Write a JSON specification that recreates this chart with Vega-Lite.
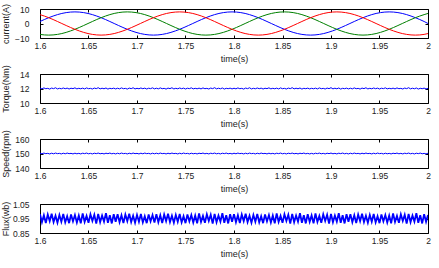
{
"$schema": "https://vega.github.io/schema/vega-lite/v6.json",
"padding": {"left": 0, "top": 2, "right": 8, "bottom": 2},
"background": "white",
"bounds": "flush",
"spacing": 36,
"config": {
  "view": {"stroke": "#000", "strokeWidth": 1},
  "font": "Liberation Sans",
  "axis": {"domain": false, "grid": false, "ticks": true, "tickSize": -3, "tickColor": "#000", "labelFontSize": 8.5, "titleFontSize": 9, "titleFontWeight": "normal", "labelColor": "#222", "titleColor": "#222", "labelFlush": false, "labelOverlap": false},
  "line": {"strokeWidth": 1}
},
"datasets": {
"cur": [
{"t":1.6,"b":1.39,"g":-7.52,"r":6.13},{"t":1.6045,"b":2.74,"g":-7.88,"r":5.14},{"t":1.609,"b":4,"g":-8,"r":4},{"t":1.6135,"b":5.14,"g":-7.88,"r":2.74},{"t":1.618,"b":6.13,"g":-7.52,"r":1.39},{"t":1.6225,"b":6.93,"g":-6.93,"r":0},{"t":1.627,"b":7.52,"g":-6.13,"r":-1.39},{"t":1.6315,"b":7.88,"g":-5.14,"r":-2.74},{"t":1.636,"b":8,"g":-4,"r":-4},{"t":1.6405,"b":7.88,"g":-2.74,"r":-5.14},{"t":1.645,"b":7.52,"g":-1.39,"r":-6.13},{"t":1.6495,"b":6.93,"g":0,"r":-6.93},{"t":1.654,"b":6.13,"g":1.39,"r":-7.52},{"t":1.6585,"b":5.14,"g":2.74,"r":-7.88},{"t":1.663,"b":4,"g":4,"r":-8},{"t":1.6675,"b":2.74,"g":5.14,"r":-7.88},{"t":1.672,"b":1.39,"g":6.13,"r":-7.52},{"t":1.6765,"b":0,"g":6.93,"r":-6.93},{"t":1.681,"b":-1.39,"g":7.52,"r":-6.13},{"t":1.6855,"b":-2.74,"g":7.88,"r":-5.14},{"t":1.69,"b":-4,"g":8,"r":-4},{"t":1.6945,"b":-5.14,"g":7.88,"r":-2.74},{"t":1.699,"b":-6.13,"g":7.52,"r":-1.39},{"t":1.7035,"b":-6.93,"g":6.93,"r":0},{"t":1.708,"b":-7.52,"g":6.13,"r":1.39},{"t":1.7125,"b":-7.88,"g":5.14,"r":2.74},{"t":1.717,"b":-8,"g":4,"r":4},{"t":1.7215,"b":-7.88,"g":2.74,"r":5.14},{"t":1.726,"b":-7.52,"g":1.39,"r":6.13},{"t":1.7305,"b":-6.93,"g":0,"r":6.93},{"t":1.735,"b":-6.13,"g":-1.39,"r":7.52},{"t":1.7395,"b":-5.14,"g":-2.74,"r":7.88},{"t":1.744,"b":-4,"g":-4,"r":8},{"t":1.7485,"b":-2.74,"g":-5.14,"r":7.88},{"t":1.753,"b":-1.39,"g":-6.13,"r":7.52},{"t":1.7575,"b":0,"g":-6.93,"r":6.93},
{"t":1.762,"b":1.39,"g":-7.52,"r":6.13},{"t":1.7665,"b":2.74,"g":-7.88,"r":5.14},{"t":1.771,"b":4,"g":-8,"r":4},{"t":1.7755,"b":5.14,"g":-7.88,"r":2.74},{"t":1.78,"b":6.13,"g":-7.52,"r":1.39},{"t":1.7845,"b":6.93,"g":-6.93,"r":0},{"t":1.789,"b":7.52,"g":-6.13,"r":-1.39},{"t":1.7935,"b":7.88,"g":-5.14,"r":-2.74},{"t":1.798,"b":8,"g":-4,"r":-4},{"t":1.8025,"b":7.88,"g":-2.74,"r":-5.14},{"t":1.807,"b":7.52,"g":-1.39,"r":-6.13},{"t":1.8115,"b":6.93,"g":0,"r":-6.93},{"t":1.816,"b":6.13,"g":1.39,"r":-7.52},{"t":1.8205,"b":5.14,"g":2.74,"r":-7.88},{"t":1.825,"b":4,"g":4,"r":-8},{"t":1.8295,"b":2.74,"g":5.14,"r":-7.88},{"t":1.834,"b":1.39,"g":6.13,"r":-7.52},{"t":1.8385,"b":0,"g":6.93,"r":-6.93},{"t":1.843,"b":-1.39,"g":7.52,"r":-6.13},{"t":1.8475,"b":-2.74,"g":7.88,"r":-5.14},{"t":1.852,"b":-4,"g":8,"r":-4},{"t":1.8565,"b":-5.14,"g":7.88,"r":-2.74},{"t":1.861,"b":-6.13,"g":7.52,"r":-1.39},{"t":1.8655,"b":-6.93,"g":6.93,"r":0},{"t":1.87,"b":-7.52,"g":6.13,"r":1.39},{"t":1.8745,"b":-7.88,"g":5.14,"r":2.74},{"t":1.879,"b":-8,"g":4,"r":4},{"t":1.8835,"b":-7.88,"g":2.74,"r":5.14},{"t":1.888,"b":-7.52,"g":1.39,"r":6.13},{"t":1.8925,"b":-6.93,"g":0,"r":6.93},{"t":1.897,"b":-6.13,"g":-1.39,"r":7.52},{"t":1.9015,"b":-5.14,"g":-2.74,"r":7.88},{"t":1.906,"b":-4,"g":-4,"r":8},{"t":1.9105,"b":-2.74,"g":-5.14,"r":7.88},{"t":1.915,"b":-1.39,"g":-6.13,"r":7.52},{"t":1.9195,"b":0,"g":-6.93,"r":6.93},
{"t":1.924,"b":1.39,"g":-7.52,"r":6.13},{"t":1.9285,"b":2.74,"g":-7.88,"r":5.14},{"t":1.933,"b":4,"g":-8,"r":4},{"t":1.9375,"b":5.14,"g":-7.88,"r":2.74},{"t":1.942,"b":6.13,"g":-7.52,"r":1.39},{"t":1.9465,"b":6.93,"g":-6.93,"r":0},{"t":1.951,"b":7.52,"g":-6.13,"r":-1.39},{"t":1.9555,"b":7.88,"g":-5.14,"r":-2.74},{"t":1.96,"b":8,"g":-4,"r":-4},{"t":1.9645,"b":7.88,"g":-2.74,"r":-5.14},{"t":1.969,"b":7.52,"g":-1.39,"r":-6.13},{"t":1.9735,"b":6.93,"g":0,"r":-6.93},{"t":1.978,"b":6.13,"g":1.39,"r":-7.52},{"t":1.9825,"b":5.14,"g":2.74,"r":-7.88},{"t":1.987,"b":4,"g":4,"r":-8},{"t":1.9915,"b":2.74,"g":5.14,"r":-7.88},{"t":1.996,"b":1.39,"g":6.13,"r":-7.52},{"t":2.0,"b":0,"g":6.93,"r":-6.93}
],
"n": [
{"t":1.6,"q":12.04,"s":150.2,"f":0.98},{"t":1.602,"q":11.95,"s":149.8,"f":0.924},{"t":1.604,"q":12.08,"s":150.3,"f":0.972},{"t":1.606,"q":11.97,"s":149.9,"f":0.919},{"t":1.608,"q":12.02,"s":150.1,"f":0.977},{"t":1.61,"q":11.92,"s":149.7,"f":0.932},{"t":1.612,"q":12.06,"s":150.2,"f":0.983},{"t":1.614,"q":11.98,"s":149.8,"f":0.926},{"t":1.616,"q":12.1,"s":150.3,"f":0.969},{"t":1.618,"q":11.94,"s":149.9,"f":0.921},{"t":1.62,"q":12.03,"s":150.1,"f":0.975},{"t":1.622,"q":11.96,"s":149.7,"f":0.928},{"t":1.624,"q":12.07,"s":150.2,"f":0.981},{"t":1.626,"q":11.97,"s":149.8,"f":0.923},{"t":1.628,"q":12.05,"s":150.3,"f":0.966},{"t":1.63,"q":11.93,"s":149.9,"f":0.918},{"t":1.632,"q":12.04,"s":150.1,"f":0.978},{"t":1.634,"q":11.98,"s":149.7,"f":0.93},{"t":1.636,"q":12.09,"s":150.2,"f":0.974},{"t":1.638,"q":11.95,"s":149.8,"f":0.922},
{"t":1.64,"q":12.03,"s":150.1,"f":0.971},{"t":1.642,"q":11.96,"s":149.7,"f":0.917},{"t":1.644,"q":12.05,"s":150.2,"f":0.985},{"t":1.646,"q":11.94,"s":149.9,"f":0.927},{"t":1.648,"q":12.08,"s":150.3,"f":0.968},{"t":1.65,"q":11.97,"s":149.8,"f":0.92},{"t":1.652,"q":12.02,"s":150.1,"f":0.979},{"t":1.654,"q":11.93,"s":149.7,"f":0.933},{"t":1.656,"q":12.06,"s":150.2,"f":0.976},{"t":1.658,"q":11.98,"s":149.9,"f":0.915},{"t":1.66,"q":12.11,"s":150.3,"f":0.982},{"t":1.662,"q":11.95,"s":149.8,"f":0.925},{"t":1.664,"q":12.04,"s":150.1,"f":0.97},{"t":1.666,"q":11.96,"s":149.7,"f":0.929},{"t":1.668,"q":12.07,"s":150.2,"f":0.987},{"t":1.67,"q":11.92,"s":149.9,"f":0.921},{"t":1.672,"q":12.03,"s":150.3,"f":0.973},{"t":1.674,"q":11.97,"s":149.8,"f":0.916},{"t":1.676,"q":12.05,"s":150.1,"f":0.98},{"t":1.678,"q":11.94,"s":149.7,"f":0.927},
{"t":1.68,"q":12.04,"s":150.2,"f":0.98},{"t":1.682,"q":11.95,"s":149.8,"f":0.924},{"t":1.684,"q":12.08,"s":150.3,"f":0.972},{"t":1.686,"q":11.97,"s":149.9,"f":0.919},{"t":1.688,"q":12.02,"s":150.1,"f":0.977},{"t":1.69,"q":11.92,"s":149.7,"f":0.932},{"t":1.692,"q":12.06,"s":150.2,"f":0.983},{"t":1.694,"q":11.98,"s":149.8,"f":0.926},{"t":1.696,"q":12.1,"s":150.3,"f":0.969},{"t":1.698,"q":11.94,"s":149.9,"f":0.921},{"t":1.7,"q":12.03,"s":150.1,"f":0.975},{"t":1.702,"q":11.96,"s":149.7,"f":0.928},{"t":1.704,"q":12.07,"s":150.2,"f":0.981},{"t":1.706,"q":11.97,"s":149.8,"f":0.923},{"t":1.708,"q":12.05,"s":150.3,"f":0.966},{"t":1.71,"q":11.93,"s":149.9,"f":0.918},{"t":1.712,"q":12.04,"s":150.1,"f":0.978},{"t":1.714,"q":11.98,"s":149.7,"f":0.93},{"t":1.716,"q":12.09,"s":150.2,"f":0.974},{"t":1.718,"q":11.95,"s":149.8,"f":0.922},
{"t":1.72,"q":12.04,"s":150.2,"f":0.98},{"t":1.722,"q":11.95,"s":149.8,"f":0.924},{"t":1.724,"q":12.08,"s":150.3,"f":0.972},{"t":1.726,"q":11.97,"s":149.9,"f":0.919},{"t":1.728,"q":12.02,"s":150.1,"f":0.977},{"t":1.73,"q":11.92,"s":149.7,"f":0.932},{"t":1.732,"q":12.06,"s":150.2,"f":0.983},{"t":1.734,"q":11.98,"s":149.8,"f":0.926},{"t":1.736,"q":12.1,"s":150.3,"f":0.969},{"t":1.738,"q":11.94,"s":149.9,"f":0.921},{"t":1.74,"q":12.03,"s":150.1,"f":0.975},{"t":1.742,"q":11.96,"s":149.7,"f":0.928},{"t":1.744,"q":12.07,"s":150.2,"f":0.981},{"t":1.746,"q":11.97,"s":149.8,"f":0.923},{"t":1.748,"q":12.05,"s":150.3,"f":0.966},{"t":1.75,"q":11.93,"s":149.9,"f":0.918},{"t":1.752,"q":12.04,"s":150.1,"f":0.978},{"t":1.754,"q":11.98,"s":149.7,"f":0.93},{"t":1.756,"q":12.09,"s":150.2,"f":0.974},{"t":1.758,"q":11.95,"s":149.8,"f":0.922},
{"t":1.76,"q":12.03,"s":150.1,"f":0.971},{"t":1.762,"q":11.96,"s":149.7,"f":0.917},{"t":1.764,"q":12.05,"s":150.2,"f":0.985},{"t":1.766,"q":11.94,"s":149.9,"f":0.927},{"t":1.768,"q":12.08,"s":150.3,"f":0.968},{"t":1.77,"q":11.97,"s":149.8,"f":0.92},{"t":1.772,"q":12.02,"s":150.1,"f":0.979},{"t":1.774,"q":11.93,"s":149.7,"f":0.933},{"t":1.776,"q":12.06,"s":150.2,"f":0.976},{"t":1.778,"q":11.98,"s":149.9,"f":0.915},{"t":1.78,"q":12.11,"s":150.3,"f":0.982},{"t":1.782,"q":11.95,"s":149.8,"f":0.925},{"t":1.784,"q":12.04,"s":150.1,"f":0.97},{"t":1.786,"q":11.96,"s":149.7,"f":0.929},{"t":1.788,"q":12.07,"s":150.2,"f":0.987},{"t":1.79,"q":11.92,"s":149.9,"f":0.921},{"t":1.792,"q":12.03,"s":150.3,"f":0.973},{"t":1.794,"q":11.97,"s":149.8,"f":0.916},{"t":1.796,"q":12.05,"s":150.1,"f":0.98},{"t":1.798,"q":11.94,"s":149.7,"f":0.927},
{"t":1.8,"q":12.04,"s":150.2,"f":0.98},{"t":1.802,"q":11.95,"s":149.8,"f":0.924},{"t":1.804,"q":12.08,"s":150.3,"f":0.972},{"t":1.806,"q":11.97,"s":149.9,"f":0.919},{"t":1.808,"q":12.02,"s":150.1,"f":0.977},{"t":1.81,"q":11.92,"s":149.7,"f":0.932},{"t":1.812,"q":12.06,"s":150.2,"f":0.983},{"t":1.814,"q":11.98,"s":149.8,"f":0.926},{"t":1.816,"q":12.1,"s":150.3,"f":0.969},{"t":1.818,"q":11.94,"s":149.9,"f":0.921},{"t":1.82,"q":12.03,"s":150.1,"f":0.975},{"t":1.822,"q":11.96,"s":149.7,"f":0.928},{"t":1.824,"q":12.07,"s":150.2,"f":0.981},{"t":1.826,"q":11.97,"s":149.8,"f":0.923},{"t":1.828,"q":12.05,"s":150.3,"f":0.966},{"t":1.83,"q":11.93,"s":149.9,"f":0.918},{"t":1.832,"q":12.04,"s":150.1,"f":0.978},{"t":1.834,"q":11.98,"s":149.7,"f":0.93},{"t":1.836,"q":12.09,"s":150.2,"f":0.974},{"t":1.838,"q":11.95,"s":149.8,"f":0.922},
{"t":1.84,"q":12.03,"s":150.1,"f":0.971},{"t":1.842,"q":11.96,"s":149.7,"f":0.917},{"t":1.844,"q":12.05,"s":150.2,"f":0.985},{"t":1.846,"q":11.94,"s":149.9,"f":0.927},{"t":1.848,"q":12.08,"s":150.3,"f":0.968},{"t":1.85,"q":11.97,"s":149.8,"f":0.92},{"t":1.852,"q":12.02,"s":150.1,"f":0.979},{"t":1.854,"q":11.93,"s":149.7,"f":0.933},{"t":1.856,"q":12.06,"s":150.2,"f":0.976},{"t":1.858,"q":11.98,"s":149.9,"f":0.915},{"t":1.86,"q":12.11,"s":150.3,"f":0.982},{"t":1.862,"q":11.95,"s":149.8,"f":0.925},{"t":1.864,"q":12.04,"s":150.1,"f":0.97},{"t":1.866,"q":11.96,"s":149.7,"f":0.929},{"t":1.868,"q":12.07,"s":150.2,"f":0.987},{"t":1.87,"q":11.92,"s":149.9,"f":0.921},{"t":1.872,"q":12.03,"s":150.3,"f":0.973},{"t":1.874,"q":11.97,"s":149.8,"f":0.916},{"t":1.876,"q":12.05,"s":150.1,"f":0.98},{"t":1.878,"q":11.94,"s":149.7,"f":0.927},
{"t":1.88,"q":12.03,"s":150.1,"f":0.971},{"t":1.882,"q":11.96,"s":149.7,"f":0.917},{"t":1.884,"q":12.05,"s":150.2,"f":0.985},{"t":1.886,"q":11.94,"s":149.9,"f":0.927},{"t":1.888,"q":12.08,"s":150.3,"f":0.968},{"t":1.89,"q":11.97,"s":149.8,"f":0.92},{"t":1.892,"q":12.02,"s":150.1,"f":0.979},{"t":1.894,"q":11.93,"s":149.7,"f":0.933},{"t":1.896,"q":12.06,"s":150.2,"f":0.976},{"t":1.898,"q":11.98,"s":149.9,"f":0.915},{"t":1.9,"q":12.11,"s":150.3,"f":0.982},{"t":1.902,"q":11.95,"s":149.8,"f":0.925},{"t":1.904,"q":12.04,"s":150.1,"f":0.97},{"t":1.906,"q":11.96,"s":149.7,"f":0.929},{"t":1.908,"q":12.07,"s":150.2,"f":0.987},{"t":1.91,"q":11.92,"s":149.9,"f":0.921},{"t":1.912,"q":12.03,"s":150.3,"f":0.973},{"t":1.914,"q":11.97,"s":149.8,"f":0.916},{"t":1.916,"q":12.05,"s":150.1,"f":0.98},{"t":1.918,"q":11.94,"s":149.7,"f":0.927},
{"t":1.92,"q":12.04,"s":150.2,"f":0.98},{"t":1.922,"q":11.95,"s":149.8,"f":0.924},{"t":1.924,"q":12.08,"s":150.3,"f":0.972},{"t":1.926,"q":11.97,"s":149.9,"f":0.919},{"t":1.928,"q":12.02,"s":150.1,"f":0.977},{"t":1.93,"q":11.92,"s":149.7,"f":0.932},{"t":1.932,"q":12.06,"s":150.2,"f":0.983},{"t":1.934,"q":11.98,"s":149.8,"f":0.926},{"t":1.936,"q":12.1,"s":150.3,"f":0.969},{"t":1.938,"q":11.94,"s":149.9,"f":0.921},{"t":1.94,"q":12.03,"s":150.1,"f":0.975},{"t":1.942,"q":11.96,"s":149.7,"f":0.928},{"t":1.944,"q":12.07,"s":150.2,"f":0.981},{"t":1.946,"q":11.97,"s":149.8,"f":0.923},{"t":1.948,"q":12.05,"s":150.3,"f":0.966},{"t":1.95,"q":11.93,"s":149.9,"f":0.918},{"t":1.952,"q":12.04,"s":150.1,"f":0.978},{"t":1.954,"q":11.98,"s":149.7,"f":0.93},{"t":1.956,"q":12.09,"s":150.2,"f":0.974},{"t":1.958,"q":11.95,"s":149.8,"f":0.922},
{"t":1.96,"q":12.03,"s":150.1,"f":0.971},{"t":1.962,"q":11.96,"s":149.7,"f":0.917},{"t":1.964,"q":12.05,"s":150.2,"f":0.985},{"t":1.966,"q":11.94,"s":149.9,"f":0.927},{"t":1.968,"q":12.08,"s":150.3,"f":0.968},{"t":1.97,"q":11.97,"s":149.8,"f":0.92},{"t":1.972,"q":12.02,"s":150.1,"f":0.979},{"t":1.974,"q":11.93,"s":149.7,"f":0.933},{"t":1.976,"q":12.06,"s":150.2,"f":0.976},{"t":1.978,"q":11.98,"s":149.9,"f":0.915},{"t":1.98,"q":12.11,"s":150.3,"f":0.982},{"t":1.982,"q":11.95,"s":149.8,"f":0.925},{"t":1.984,"q":12.04,"s":150.1,"f":0.97},{"t":1.986,"q":11.96,"s":149.7,"f":0.929},{"t":1.988,"q":12.07,"s":150.2,"f":0.987},{"t":1.99,"q":11.92,"s":149.9,"f":0.921},{"t":1.992,"q":12.03,"s":150.3,"f":0.973},{"t":1.994,"q":11.97,"s":149.8,"f":0.916},{"t":1.996,"q":12.05,"s":150.1,"f":0.98},{"t":1.998,"q":11.94,"s":149.7,"f":0.927},
{"t":2.0,"q":12.02,"s":150.2,"f":0.975}
]
},
"vconcat": [
{
 "width": 388, "height": 29,
 "data": {"name": "cur"},
 "layer": [
  {"mark": {"type": "line", "color": "#0000ff", "clip": true},
   "encoding": {
    "x": {"field": "t", "type": "quantitative", "scale": {"domain": [1.6, 2], "nice": false, "zero": false}, "axis": {"orient": "bottom", "values": [1.6,1.65,1.7,1.75,1.8,1.85,1.9,1.95,2], "format": "~g", "title": "time(s)", "labelPadding": 6, "titleY": 20, "titleBaseline": "middle"}},
    "y": {"field": "b", "type": "quantitative", "scale": {"domain": [-10, 10], "nice": false, "zero": false}, "axis": {"orient": "left", "values": [-10, 0, 10], "title": "current(A)", "titleX": -30, "labelPadding": 14}}}},
  {"mark": {"type": "line", "color": "#008000", "clip": true},
   "encoding": {"x": {"field": "t", "type": "quantitative", "axis": null}, "y": {"field": "g", "type": "quantitative", "axis": null}}},
  {"mark": {"type": "line", "color": "#ff0000", "clip": true},
   "encoding": {"x": {"field": "t", "type": "quantitative", "axis": null}, "y": {"field": "r", "type": "quantitative", "axis": null}}},
  {"mark": {"type": "line", "opacity": 0},
   "encoding": {
    "x": {"field": "t", "type": "quantitative", "axis": {"orient": "top", "values": [1.6,1.65,1.7,1.75,1.8,1.85,1.9,1.95,2], "labels": false, "title": null}},
    "y": {"field": "b", "type": "quantitative", "axis": {"orient": "right", "values": [-10, 0, 10], "labels": false, "title": null}}}}
 ],
 "resolve": {"axis": {"x": "independent", "y": "independent"}}
},
{
 "width": 388, "height": 29,
 "data": {"name": "n"},
 "layer": [
  {"mark": {"type": "line", "color": "#0000ff", "clip": true},
   "encoding": {
    "x": {"field": "t", "type": "quantitative", "scale": {"domain": [1.6, 2], "nice": false, "zero": false}, "axis": {"orient": "bottom", "values": [1.6,1.65,1.7,1.75,1.8,1.85,1.9,1.95,2], "format": "~g", "title": "time(s)", "labelPadding": 6, "titleY": 20, "titleBaseline": "middle"}},
    "y": {"field": "q", "type": "quantitative", "scale": {"domain": [10, 14], "nice": false, "zero": false}, "axis": {"orient": "left", "values": [10, 12, 14], "title": "Torque(Nm)", "titleX": -30, "labelPadding": 14}}}},
  {"mark": {"type": "line", "opacity": 0},
   "encoding": {
    "x": {"field": "t", "type": "quantitative", "axis": {"orient": "top", "values": [1.6,1.65,1.7,1.75,1.8,1.85,1.9,1.95,2], "labels": false, "title": null}},
    "y": {"field": "q", "type": "quantitative", "axis": {"orient": "right", "values": [10, 12, 14], "labels": false, "title": null}}}}
 ],
 "resolve": {"axis": {"x": "independent", "y": "independent"}}
},
{
 "width": 388, "height": 29,
 "data": {"name": "n"},
 "layer": [
  {"mark": {"type": "line", "color": "#0000ff", "clip": true},
   "encoding": {
    "x": {"field": "t", "type": "quantitative", "scale": {"domain": [1.6, 2], "nice": false, "zero": false}, "axis": {"orient": "bottom", "values": [1.6,1.65,1.7,1.75,1.8,1.85,1.9,1.95,2], "format": "~g", "title": "time(s)", "labelPadding": 6, "titleY": 20, "titleBaseline": "middle"}},
    "y": {"field": "s", "type": "quantitative", "scale": {"domain": [140, 160], "nice": false, "zero": false}, "axis": {"orient": "left", "values": [140, 150, 160], "title": "Speed(rpm)", "titleX": -30, "labelPadding": 14}}}},
  {"mark": {"type": "line", "opacity": 0},
   "encoding": {
    "x": {"field": "t", "type": "quantitative", "axis": {"orient": "top", "values": [1.6,1.65,1.7,1.75,1.8,1.85,1.9,1.95,2], "labels": false, "title": null}},
    "y": {"field": "s", "type": "quantitative", "axis": {"orient": "right", "values": [140, 150, 160], "labels": false, "title": null}}}}
 ],
 "resolve": {"axis": {"x": "independent", "y": "independent"}}
},
{
 "width": 388, "height": 29,
 "data": {"name": "n"},
 "layer": [
  {"mark": {"type": "line", "color": "#0000ff", "clip": true, "strokeWidth": 1.8},
   "encoding": {
    "x": {"field": "t", "type": "quantitative", "scale": {"domain": [1.6, 2], "nice": false, "zero": false}, "axis": {"orient": "bottom", "values": [1.6,1.65,1.7,1.75,1.8,1.85,1.9,1.95,2], "format": "~g", "title": "time(s)", "labelPadding": 6, "titleY": 20, "titleBaseline": "middle"}},
    "y": {"field": "f", "type": "quantitative", "scale": {"domain": [0.85, 1.05], "nice": false, "zero": false}, "axis": {"orient": "left", "values": [0.85, 0.95, 1.05], "title": "Flux(wb)", "titleX": -30, "labelPadding": 14}}}},
  {"mark": {"type": "line", "opacity": 0},
   "encoding": {
    "x": {"field": "t", "type": "quantitative", "axis": {"orient": "top", "values": [1.6,1.65,1.7,1.75,1.8,1.85,1.9,1.95,2], "labels": false, "title": null}},
    "y": {"field": "f", "type": "quantitative", "axis": {"orient": "right", "values": [0.85, 0.95, 1.05], "labels": false, "title": null}}}}
 ],
 "resolve": {"axis": {"x": "independent", "y": "independent"}}
}
]
}
